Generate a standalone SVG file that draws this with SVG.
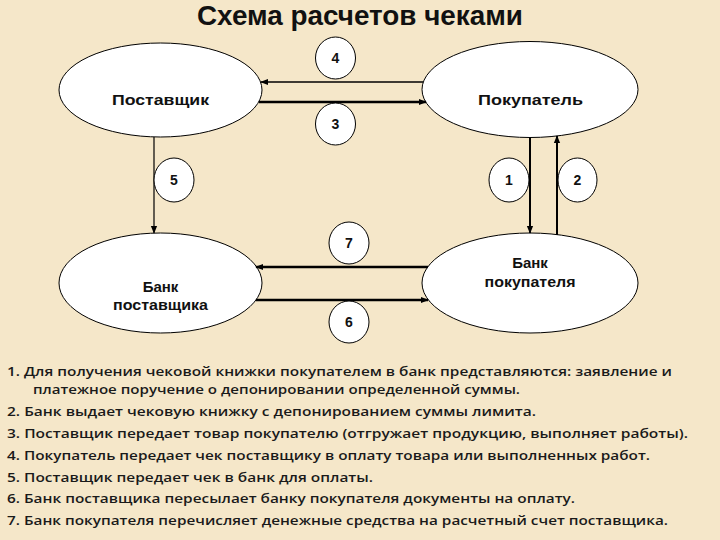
<svg xmlns="http://www.w3.org/2000/svg" width="720" height="540" viewBox="0 0 720 540">
<defs>
<marker id="ah" viewBox="0 0 10 10" refX="9" refY="5" markerWidth="8" markerHeight="8" markerUnits="userSpaceOnUse" orient="auto"><path d="M0,1 L10,5 L0,9 Z" fill="#000"/></marker>
<style>
.node{fill:#fff;stroke:#000;stroke-width:1}
.lbl{font-family:"Liberation Sans",Arial,sans-serif;font-size:15px;font-weight:bold;fill:#111;text-anchor:middle}
.num{font-family:"Liberation Sans",Arial,sans-serif;font-size:14px;font-weight:bold;fill:#111;text-anchor:middle}
.badge{fill:#fff;stroke:#000;stroke-width:1}
.c{stroke:#000;fill:none;marker-end:url(#ah)}
.t{font-family:"Open Sans","Noto Sans",sans-serif;font-size:13px;font-weight:600;fill:#1a1a1a}
</style>
</defs>
<rect width="720" height="540" fill="#f5e7c9"/>
<text x="360" y="25" font-family="'Liberation Sans',Arial,sans-serif" font-size="27" font-weight="bold" text-anchor="middle" fill="#111" textLength="326" lengthAdjust="spacingAndGlyphs">Схема расчетов чеками</text>
<g id="n-supplier"><ellipse class="node" cx="160.5" cy="90" rx="101.5" ry="47"/><text class="lbl" x="160.5" y="105" textLength="97" lengthAdjust="spacingAndGlyphs">Поставщик</text></g>
<g id="n-buyer"><ellipse class="node" cx="530" cy="89.5" rx="108" ry="48"/><text class="lbl" x="530.5" y="105" textLength="105" lengthAdjust="spacingAndGlyphs">Покупатель</text></g>
<g id="n-bank-supplier"><ellipse class="node" cx="160.5" cy="283" rx="101.5" ry="50"/><text class="lbl" x="160.5" y="292">Банк</text><text class="lbl" x="160.5" y="310" textLength="95" lengthAdjust="spacingAndGlyphs">поставщика</text></g>
<g id="n-bank-buyer"><ellipse class="node" cx="530" cy="283" rx="108" ry="50"/><text class="lbl" x="530" y="268">Банк</text><text class="lbl" x="530" y="287" textLength="91" lengthAdjust="spacingAndGlyphs">покупателя</text></g>
<g id="connectors">
<line class="c" x1="423" y1="82" x2="261" y2="82" stroke-width="1.5"/>
<line class="c" x1="259" y1="102" x2="426" y2="102" stroke-width="2.5"/>
<line class="c" x1="154" y1="137" x2="154" y2="233" stroke-width="1.2"/>
<line class="c" x1="530" y1="137.5" x2="530" y2="233" stroke-width="2"/>
<line class="c" x1="557" y1="235" x2="557" y2="136" stroke-width="2"/>
<line class="c" x1="428" y1="267" x2="256" y2="267" stroke-width="2.5"/>
<line class="c" x1="256" y1="300" x2="428" y2="300" stroke-width="2.5"/>
</g>
<g id="b4"><ellipse class="badge" cx="335.5" cy="58" rx="20" ry="21"/><text class="num" x="335.5" y="63">4</text></g>
<g id="b3"><ellipse class="badge" cx="335.5" cy="124" rx="20" ry="21"/><text class="num" x="335.5" y="129">3</text></g>
<g id="b5"><ellipse class="badge" cx="174" cy="180" rx="20" ry="22"/><text class="num" x="174" y="185">5</text></g>
<g id="b1"><ellipse class="badge" cx="509" cy="180" rx="20" ry="22"/><text class="num" x="509" y="185">1</text></g>
<g id="b2"><ellipse class="badge" cx="577.5" cy="180" rx="19.5" ry="22"/><text class="num" x="577.5" y="185">2</text></g>
<g id="b7"><ellipse class="badge" cx="349" cy="243" rx="20" ry="21"/><text class="num" x="349" y="248">7</text></g>
<g id="b6"><ellipse class="badge" cx="349" cy="322" rx="20" ry="21"/><text class="num" x="349" y="327">6</text></g>
<g id="notes">
<text class="t" x="7" y="376" textLength="665" lengthAdjust="spacingAndGlyphs">1. Для получения чековой книжки покупателем в банк представляются: заявление и</text>
<text class="t" x="33" y="394" textLength="487" lengthAdjust="spacingAndGlyphs">платежное поручение о депонировании определенной суммы.</text>
<text class="t" x="7" y="416" textLength="529" lengthAdjust="spacingAndGlyphs">2. Банк выдает чековую книжку с депонированием суммы лимита.</text>
<text class="t" x="7" y="438" textLength="681" lengthAdjust="spacingAndGlyphs">3. Поставщик передает товар покупателю (отгружает продукцию, выполняет работы).</text>
<text class="t" x="7" y="460" textLength="643" lengthAdjust="spacingAndGlyphs">4. Покупатель передает чек поставщику в оплату товара или выполненных работ.</text>
<text class="t" x="7" y="482" textLength="366" lengthAdjust="spacingAndGlyphs">5. Поставщик передает чек в банк для оплаты.</text>
<text class="t" x="7" y="503" textLength="568" lengthAdjust="spacingAndGlyphs">6. Банк поставщика пересылает банку покупателя документы на оплату.</text>
<text class="t" x="7" y="525" textLength="661" lengthAdjust="spacingAndGlyphs">7. Банк покупателя перечисляет денежные средства на расчетный счет поставщика.</text>
</g>
</svg>
